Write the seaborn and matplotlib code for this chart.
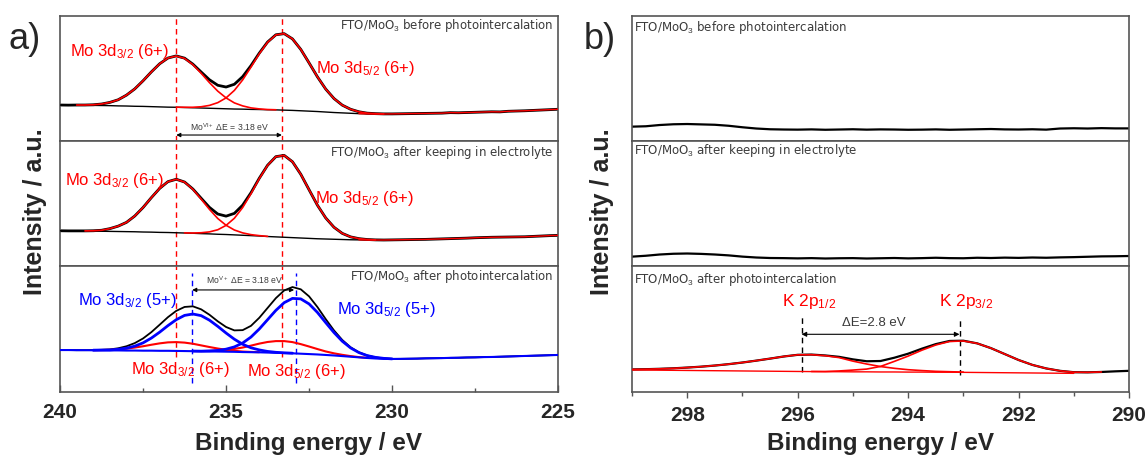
import numpy as np
import matplotlib
matplotlib.use("Agg")
import matplotlib.pyplot as plt
import seaborn as sns
from matplotlib.ticker import MultipleLocator

# ====================== data ======================
# intensities are given as fractions of each panel's height
energy_mo = np.linspace(240, 225, 61)        # 0.25 eV sampling
energy_k = np.linspace(299, 290, 37)         # 0.25 eV sampling
N_PEAK = 41                                  # Mo components listed from 240 to 230 eV

mo6_pos = [236.5, 233.32]
mo5_pos = [236.02, 232.88]
k_pos = [295.93, 293.07]
mo_ticks = [240, 235, 230, 225]
k_ticks = [298, 296, 294, 292, 290]

# --- Mo 3d, before photointercalation
before_bg = [0.288, 0.287, 0.287, 0.286, 0.285, 0.284, 0.283, 0.281, 0.280, 0.278,
             0.277, 0.275, 0.273, 0.271, 0.270, 0.268, 0.266, 0.264, 0.262, 0.260,
             0.258, 0.256, 0.255, 0.253, 0.252, 0.250, 0.249, 0.247, 0.245, 0.242,
             0.239, 0.236, 0.232, 0.228, 0.225, 0.222, 0.219, 0.217, 0.216, 0.216,
             0.217, 0.218, 0.219, 0.220, 0.221, 0.222, 0.223, 0.227, 0.226, 0.228,
             0.230, 0.232, 0.234, 0.233, 0.238, 0.240, 0.242, 0.245, 0.248, 0.251, 0.254]
before_32 = [0, 0, 0.001, 0.002, 0.005, 0.012, 0.026, 0.049, 0.087, 0.139,
             0.205, 0.278, 0.345, 0.393, 0.410, 0.393, 0.345, 0.278, 0.205, 0.139,
             0.087, 0.049, 0.026, 0.012, 0.005, 0.002, 0.001, 0, 0, 0,
             0, 0, 0, 0, 0, 0, 0, 0, 0, 0, 0]
before_52 = [0, 0, 0, 0, 0, 0, 0, 0, 0, 0,
             0, 0, 0, 0, 0.001, 0.002, 0.004, 0.010, 0.023, 0.047,
             0.087, 0.149, 0.234, 0.338, 0.446, 0.540, 0.600, 0.612, 0.572, 0.491,
             0.386, 0.278, 0.184, 0.112, 0.062, 0.032, 0.015, 0.006, 0.003, 0.001, 0]

# --- Mo 3d, after keeping in electrolyte
kept_bg = [0.282, 0.281, 0.281, 0.280, 0.279, 0.278, 0.277, 0.276, 0.275, 0.274,
           0.272, 0.271, 0.269, 0.268, 0.266, 0.264, 0.262, 0.259, 0.257, 0.254,
           0.252, 0.249, 0.246, 0.243, 0.240, 0.236, 0.233, 0.230, 0.227, 0.224,
           0.221, 0.218, 0.216, 0.214, 0.212, 0.210, 0.209, 0.208, 0.208, 0.208,
           0.209, 0.210, 0.211, 0.212, 0.213, 0.215, 0.217, 0.219, 0.221, 0.223,
           0.226, 0.228, 0.230, 0.231, 0.232, 0.233, 0.234, 0.237, 0.240, 0.243, 0.245]
kept_32 = [0, 0, 0, 0.001, 0.003, 0.008, 0.022, 0.043, 0.074, 0.126,
           0.196, 0.276, 0.352, 0.407, 0.428, 0.407, 0.352, 0.276, 0.196, 0.126,
           0.074, 0.039, 0.019, 0.008, 0.003, 0.001, 0, 0, 0, 0,
           0, 0, 0, 0, 0, 0, 0, 0, 0, 0, 0]
kept_52 = [0, 0, 0, 0, 0, 0, 0, 0, 0, 0,
           0, 0, 0, 0, 0, 0.001, 0.002, 0.007, 0.016, 0.036,
           0.073, 0.133, 0.222, 0.335, 0.459, 0.569, 0.642, 0.655, 0.607, 0.510,
           0.389, 0.269, 0.169, 0.096, 0.049, 0.023, 0.010, 0.004, 0.001, 0, 0]

# --- Mo 3d, after photointercalation
after_bg = [0.333, 0.333, 0.332, 0.332, 0.331, 0.331, 0.330, 0.330, 0.329, 0.329,
            0.328, 0.328, 0.327, 0.327, 0.326, 0.325, 0.324, 0.323, 0.322, 0.321,
            0.320, 0.319, 0.317, 0.316, 0.315, 0.313, 0.311, 0.309, 0.307, 0.304,
            0.301, 0.298, 0.294, 0.290, 0.285, 0.280, 0.275, 0.270, 0.266, 0.263,
            0.262, 0.263, 0.264, 0.265, 0.267, 0.268, 0.269, 0.271, 0.272, 0.274,
            0.275, 0.277, 0.278, 0.280, 0.282, 0.284, 0.286, 0.288, 0.290, 0.292, 0.294]
after_5_32 = [0, 0, 0, 0, 0.001, 0.002, 0.004, 0.009, 0.019, 0.035,
              0.062, 0.100, 0.148, 0.200, 0.248, 0.283, 0.295, 0.283, 0.248, 0.200,
              0.148, 0.100, 0.062, 0.035, 0.019, 0.009, 0.004, 0.002, 0.001, 0,
              0, 0, 0, 0, 0, 0, 0, 0, 0, 0, 0]
after_5_52 = [0, 0, 0, 0, 0, 0, 0, 0, 0, 0,
              0, 0, 0, 0, 0, 0, 0.001, 0.001, 0.004, 0.009,
              0.020, 0.039, 0.072, 0.120, 0.185, 0.261, 0.337, 0.400, 0.436, 0.435,
              0.398, 0.334, 0.257, 0.182, 0.118, 0.070, 0.038, 0.019, 0.009, 0.004, 0.001]
after_6_32 = [0, 0, 0, 0, 0.001, 0.002, 0.004, 0.008, 0.015, 0.024,
              0.035, 0.047, 0.059, 0.067, 0.070, 0.067, 0.059, 0.047, 0.035, 0.024,
              0.015, 0.008, 0.004, 0.002, 0.001, 0, 0, 0, 0, 0,
              0, 0, 0, 0, 0, 0, 0, 0, 0, 0, 0]
after_6_52 = [0, 0, 0, 0, 0, 0, 0, 0, 0, 0,
              0, 0, 0, 0, 0, 0, 0.001, 0.002, 0.004, 0.007,
              0.013, 0.023, 0.036, 0.052, 0.069, 0.084, 0.093, 0.095, 0.089, 0.076,
              0.060, 0.043, 0.028, 0.017, 0.010, 0.005, 0.002, 0.001, 0, 0, 0]

# --- K 2p region
k_before = [0.115, 0.118, 0.128, 0.134, 0.136, 0.133, 0.130, 0.122, 0.110, 0.100,
            0.094, 0.092, 0.091, 0.093, 0.090, 0.092, 0.094, 0.091, 0.093, 0.092,
            0.090, 0.091, 0.093, 0.090, 0.092, 0.094, 0.096, 0.093, 0.092, 0.094,
            0.091, 0.100, 0.102, 0.100, 0.103, 0.101, 0.101]
k_kept = [0.075, 0.082, 0.092, 0.098, 0.100, 0.097, 0.092, 0.085, 0.075, 0.068,
          0.064, 0.063, 0.061, 0.063, 0.060, 0.062, 0.063, 0.060, 0.062, 0.064,
          0.061, 0.063, 0.066, 0.063, 0.062, 0.066, 0.064, 0.067, 0.065, 0.068,
          0.066, 0.069, 0.071, 0.074, 0.077, 0.078, 0.080]
k_after_bg = [0.175, 0.174, 0.173, 0.172, 0.171, 0.170, 0.169, 0.168, 0.167, 0.166,
              0.165, 0.164, 0.163, 0.162, 0.161, 0.161, 0.160, 0.160, 0.159, 0.159,
              0.158, 0.158, 0.157, 0.157, 0.156, 0.155, 0.154, 0.153, 0.152, 0.151,
              0.150, 0.149, 0.148, 0.152, 0.158, 0.164, 0.168]
k_after_12 = [0.004, 0.007, 0.011, 0.016, 0.023, 0.031, 0.041, 0.053, 0.067, 0.083,
              0.100, 0.118, 0.132, 0.134, 0.127, 0.112, 0.085, 0.062, 0.043, 0.029,
              0.019, 0.012, 0.007, 0.004, 0.002, 0, 0, 0, 0, 0,
              0, 0, 0, 0, 0, 0, 0]
k_after_32 = [0, 0, 0, 0, 0, 0, 0, 0, 0, 0,
              0, 0, 0, 0.001, 0.002, 0.006, 0.014, 0.022, 0.044, 0.084,
              0.127, 0.174, 0.216, 0.244, 0.249, 0.231, 0.194, 0.148, 0.102, 0.064,
              0.037, 0.019, 0.009, 0.004, 0.001, 0, 0]

# ====================== style ======================
RED = "#ff0000"
BLUE = "#0000ff"
GRAY_TXT = "#3a3a3a"
SPINE = "#555555"
SAMPLE_FONT = dict(fontsize=8.5, color=GRAY_TXT, family=["DejaVu Sans"])

sns.set_style("ticks")
plt.rcParams.update({
    "font.family": ["Liberation Sans", "DejaVu Sans"],
    "mathtext.fontset": "custom",
    "mathtext.rm": "Liberation Sans",
    "mathtext.it": "Liberation Sans:italic",
    "mathtext.bf": "Liberation Sans:bold",
    "axes.unicode_minus": False,
})


def line(ax, x, y, color, lw, z=2, ls="-"):
    sns.lineplot(x=np.asarray(x), y=np.asarray(y), ax=ax, color=color, linewidth=lw,
                 linestyle=ls, zorder=z, estimator=None, sort=False, legend=False)


def total(bg, *comps):
    y = np.array(bg, dtype=float)
    for c in comps:
        y[:len(c)] += np.asarray(c)
    return y


def peak(ax, x, bg, comp, color, lw, z):
    comp = np.asarray(comp, dtype=float)
    nz = np.nonzero(comp)[0]
    sl = slice(nz[0], nz[-1] + 1)
    y = np.asarray(bg, dtype=float)[:len(comp)] + comp
    line(ax, np.asarray(x)[:len(comp)][sl], y[sl], color, lw, z)


def mo_label(ax, x, y, sub, state, color):
    ax.text(x, y, "Mo 3d$_{" + sub + "}$ (" + state + ")", color=color,
            fontsize=12, ha="left", va="center")


fig = plt.figure(figsize=(11.46, 4.58), dpi=100)
rows = [(0.6921, 0.2729), (0.4192, 0.2729), (0.1441, 0.2751)]
ax_a = [fig.add_axes([0.0524, b, 0.4346, h]) for b, h in rows]
ax_b = [fig.add_axes([0.5515, b, 0.4337, h]) for b, h in rows]

for ax in ax_a + ax_b:
    ax.set_ylim(0, 1)
    ax.set_yticks([])
    ax.set_xlabel("")
    ax.set_ylabel("")
    for sp in ax.spines.values():
        sp.set_visible(True)
        sp.set_color(SPINE)
        sp.set_linewidth(1.2)
for ax in ax_a:
    ax.set_xlim(240, 225)
for ax in ax_b:
    ax.set_xlim(299, 290)
for ax in ax_a[:2] + ax_b[:2]:
    ax.set_xticks([])
    ax.tick_params(axis="x", which="both", bottom=False, labelbottom=False)

dash = (0, (4, 3))

# ---------------- panel a: top and middle ----------------
samples = [
    (ax_a[0], before_bg, before_32, before_52, "FTO/MoO$_3$ before photointercalation",
     0.928, (0.714, 0.584), (239.7, 232.3)),
    (ax_a[1], kept_bg, kept_32, kept_52, "FTO/MoO$_3$ after keeping in electrolyte",
     0.906, (0.688, 0.544), (239.86, 232.32)),
]
for ax, bg, c32, c52, name, ny, ly, lx in samples:
    line(ax, energy_mo, total(bg, c32, c52), "black", 2.0, z=2)
    line(ax, energy_mo[:N_PEAK], bg[:N_PEAK], "black", 1.0, z=3)
    peak(ax, energy_mo, bg, c32, RED, 1.2, 4)
    peak(ax, energy_mo, bg, c52, RED, 1.2, 4)
    line(ax, energy_mo[36:], bg[36:], RED, 1.0, z=5)
    for p in mo6_pos:
        ax.axvline(p, color=RED, lw=1.0, linestyle=dash, zorder=1)
    ax.text(0.99, ny, name, transform=ax.transAxes, ha="right", va="center", **SAMPLE_FONT)
    mo_label(ax, lx[0], ly[0], "3/2", "6+", RED)
    mo_label(ax, lx[1], ly[1], "5/2", "6+", RED)

ax = ax_a[0]
ax.annotate("", xy=(mo6_pos[1], 0.048), xytext=(mo6_pos[0], 0.048),
            arrowprops=dict(arrowstyle="<|-|>", color="black", lw=0.8,
                            mutation_scale=6, shrinkA=0, shrinkB=0))
ax.text(234.9, 0.112, "Mo$^{\\mathrm{VI+}}$ ΔE = 3.18 eV", fontsize=6.2,
        ha="center", va="center", color=GRAY_TXT)

# ---------------- panel a: bottom ----------------
ax = ax_a[2]
line(ax, energy_mo, total(after_bg, after_5_32, after_5_52, after_6_32, after_6_52),
     "black", 1.3, z=2)
peak(ax, energy_mo, after_bg, after_6_32, RED, 1.5, 3)
peak(ax, energy_mo, after_bg, after_6_52, RED, 1.5, 3)
peak(ax, energy_mo, after_bg, after_5_32, BLUE, 2.0, 4)
peak(ax, energy_mo, after_bg, after_5_52, BLUE, 2.0, 4)
line(ax, energy_mo, after_bg, BLUE, 1.5, z=5)
for p in mo6_pos:
    ax.axvline(p, ymin=0.278, ymax=1.0, color=RED, lw=1.0, linestyle=dash, zorder=1)
for p in mo5_pos:
    ax.axvline(p, ymin=0.07, ymax=0.944, color=BLUE, lw=1.0, linestyle=dash, zorder=1)
ax.annotate("", xy=(mo5_pos[0], 0.81), xytext=(232.95, 0.81),
            arrowprops=dict(arrowstyle="<|-|>", color="black", lw=0.8,
                            mutation_scale=6, shrinkA=0, shrinkB=0))
ax.text(234.43, 0.889, "Mo$^{\\mathrm{V+}}$ ΔE = 3.18 eV", fontsize=6.2,
        ha="center", va="center", color=GRAY_TXT)
ax.text(0.99, 0.915, "FTO/MoO$_3$ after photointercalation", transform=ax.transAxes,
        ha="right", va="center", **SAMPLE_FONT)
mo_label(ax, 239.46, 0.73, "3/2", "5+", BLUE)
mo_label(ax, 231.66, 0.651, "5/2", "5+", BLUE)
mo_label(ax, 237.86, 0.175, "3/2", "6+", RED)
mo_label(ax, 234.37, 0.161, "5/2", "6+", RED)

ax.set_xticks(mo_ticks)
ax.set_xticklabels([str(t) for t in mo_ticks], fontsize=15, fontweight="bold")
ax.xaxis.set_minor_locator(MultipleLocator(2.5))
ax.tick_params(axis="x", which="major", direction="in", length=5, width=1,
               color=SPINE, pad=8, bottom=True, top=False)
ax.tick_params(axis="x", which="minor", direction="in", length=3, width=1,
               color=SPINE, bottom=True, top=False)

# ---------------- panel b ----------------
for ax, ys, name, ny in [(ax_b[0], k_before, "FTO/MoO$_3$ before photointercalation", 0.91),
                         (ax_b[1], k_kept, "FTO/MoO$_3$ after keeping in electrolyte", 0.922)]:
    line(ax, energy_k, ys, "black", 1.6, z=2)
    ax.text(0.004, ny, name, transform=ax.transAxes, ha="left", va="center", **SAMPLE_FONT)

ax = ax_b[2]
line(ax, energy_k, total(k_after_bg, k_after_12, k_after_32), "black", 1.6, z=2)
peak(ax, energy_k, k_after_bg, k_after_12, RED, 1.2, 3)
peak(ax, energy_k, k_after_bg, k_after_32, RED, 1.2, 3)
line(ax, energy_k[:33], k_after_bg[:33], RED, 1.0, z=3)
ax.axvline(k_pos[0], ymin=0.161, ymax=0.611, color="black", lw=1.0, linestyle=dash)
ax.axvline(k_pos[1], ymin=0.135, ymax=0.598, color="black", lw=1.0, linestyle=dash)
ax.annotate("", xy=(k_pos[1], 0.458), xytext=(k_pos[0], 0.458),
            arrowprops=dict(arrowstyle="<|-|>", color="black", lw=0.8,
                            mutation_scale=7, shrinkA=0, shrinkB=0))
ax.text(294.62, 0.545, "ΔE=2.8 eV", fontsize=9.5, ha="center", va="center", color=GRAY_TXT)
ax.text(296.28, 0.717, "K 2p$_{1/2}$", fontsize=12.5, color=RED, ha="left", va="center")
ax.text(293.44, 0.717, "K 2p$_{3/2}$", fontsize=12.5, color=RED, ha="left", va="center")
ax.text(0.004, 0.889, "FTO/MoO$_3$ after photointercalation", transform=ax.transAxes,
        ha="left", va="center", **SAMPLE_FONT)

ax.set_xticks(k_ticks)
ax.set_xticklabels([str(t) for t in k_ticks], fontsize=15, fontweight="bold")
ax.xaxis.set_minor_locator(MultipleLocator(1))
ax.tick_params(axis="x", which="major", direction="out", length=4, width=1,
               color=SPINE, pad=6, bottom=True, top=False)
ax.tick_params(axis="x", which="minor", direction="out", length=3, width=1,
               color=SPINE, bottom=True, top=False)

# ---------------- figure labels ----------------
for xf in (0.0305, 0.5253):
    fig.text(xf, 0.537, "Intensity / a.u.", rotation=90, ha="center", va="center",
             fontsize=18, fontweight="bold")
for xf in (0.2696, 0.768):
    fig.text(xf, 0.018, "Binding energy / eV", ha="center", va="baseline",
             fontsize=17.5, fontweight="bold")
fig.text(0.007, 0.913, "a)", fontsize=26, ha="left", va="center")
fig.text(0.5096, 0.913, "b)", fontsize=26, ha="left", va="center")

fig.savefig("out.png", dpi=100)
plt.close(fig)
